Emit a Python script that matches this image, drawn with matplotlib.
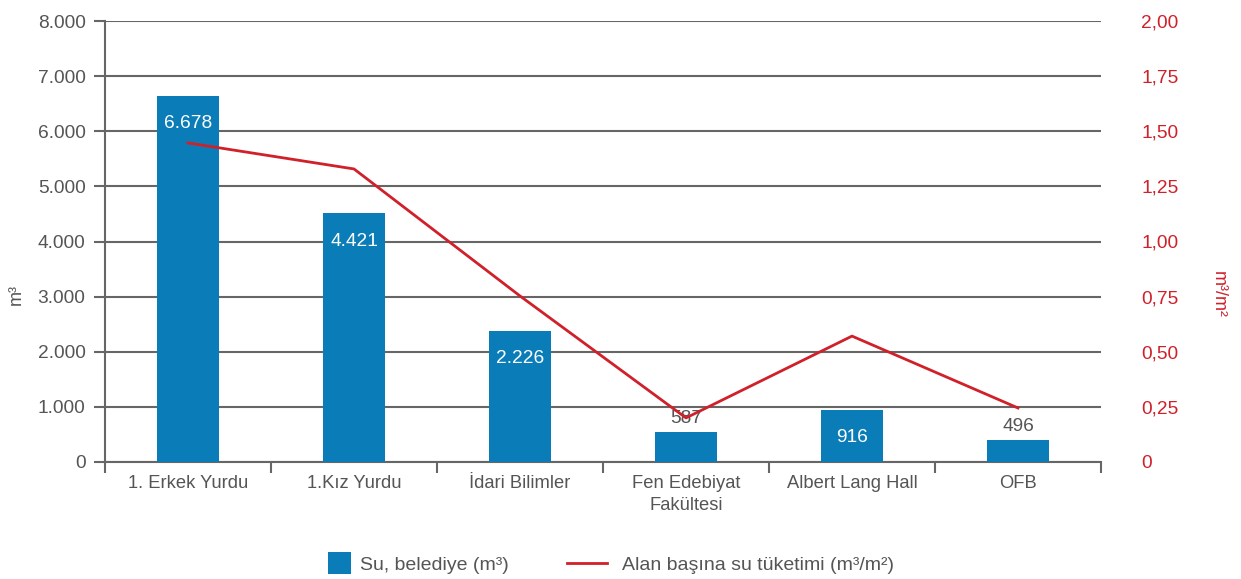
import numpy as np
import matplotlib.pyplot as plt
from matplotlib.patches import Patch, Rectangle
from matplotlib.lines import Line2D
from matplotlib.legend_handler import HandlerPatch

plt.rcParams['font.family'] = ['Liberation Sans', 'DejaVu Sans']

# data
categories = ["1. Erkek Yurdu", "1.Kız Yurdu", "İdari Bilimler",
              "Fen Edebiyat\nFakültesi", "Albert Lang Hall", "OFB"]
water = [6636, 4510, 2380, 545, 945, 400]          # bar heights as drawn
water_labels = ["6.678", "4.421", "2.226", "587", "916", "496"]
per_area = [1.447, 1.329, 0.753, 0.20, 0.571, 0.245]
left_ticks = [0, 1000, 2000, 3000, 4000, 5000, 6000, 7000, 8000]
left_ticklabels = ["0", "1.000", "2.000", "3.000", "4.000", "5.000", "6.000", "7.000", "8.000"]
right_ticks = [0, 0.25, 0.5, 0.75, 1.0, 1.25, 1.5, 1.75, 2.0]
right_ticklabels = ["0", "0,25", "0,50", "0,75", "1,00", "1,25", "1,50", "1,75", "2,00"]

blue = "#0a7db8"
red = "#d0202a"
grey = "#555555"
gridc = "#666666"


class SquareHandler(HandlerPatch):
    # square legend patch, pushed to the right end of the handle box
    def create_artists(self, legend, orig_handle, xdescent, ydescent,
                       width, height, fontsize, trans):
        s = 16.5
        r = Rectangle((-xdescent + width - s + 4.5, -ydescent + height / 2 - s / 2), s, s,
                      facecolor=orig_handle.get_facecolor(), edgecolor="none",
                      transform=trans)
        return [r]


fig = plt.figure(figsize=(12.41, 5.79), dpi=100)
ax = fig.add_axes([105/1241, 1 - 462/579, (1101-105)/1241, (462-21)/579])
ax2 = ax.twinx()

x = np.arange(len(categories))
ax.bar(x, water, width=0.37, color=blue, zorder=3)
ax.set_xlim(-0.5, len(categories) - 0.5)
ax.set_ylim(0, 8000)

for i, (v, lab) in enumerate(zip(water, water_labels)):
    if v > 800:
        ax.annotate(lab, (i, v), xytext=(0, -20), textcoords="offset points",
                    ha="center", va="center", color="white", fontsize=13.8, zorder=5)
    else:
        ax.annotate(lab, (i, v), xytext=(0, 10), textcoords="offset points",
                    ha="center", va="center", color=grey, fontsize=13.8, zorder=5)

# gridlines
ax.set_yticks(left_ticks)
ax.set_yticklabels(left_ticklabels)
ax.yaxis.grid(True, color=gridc, linewidth=1.5, zorder=0)
ax.tick_params(axis="y", length=8, width=1.5, color=gridc, labelcolor=grey,
               labelsize=13.8, pad=6)

# x ticks between categories
ax.set_xticks(x)
ax.set_xticklabels(categories, fontsize=13.2, color=grey, linespacing=1.4)
ax.tick_params(axis="x", length=0, pad=9)
ax.set_xticks(np.arange(len(categories) + 1) - 0.5, minor=True)
ax.tick_params(axis="x", which="minor", length=8, width=1.5, color=gridc)

for s in ["top", "right"]:
    ax.spines[s].set_visible(False)
for s in ["left", "bottom"]:
    ax.spines[s].set_color(gridc)
    ax.spines[s].set_linewidth(1.5)
ax.set_ylabel("m³", color=grey, fontsize=13)
ax.yaxis.set_label_coords(-0.081, 0.38)

ax2.plot(x, per_area, color=red, linewidth=2, zorder=4)
ax2.set_ylim(0, 2)
ax2.set_yticks(right_ticks)
ax2.set_yticklabels(right_ticklabels)
ax2.tick_params(axis="y", length=0, labelcolor=red, labelsize=13.8, pad=29)
for s in ax2.spines.values():
    s.set_visible(False)
ax2.set_ylabel("m³/m²", color=red, fontsize=13, rotation=270, va="center")
ax2.yaxis.set_label_coords(1.1175, 0.38)

handles = [Patch(facecolor=blue, edgecolor="none"),
           Line2D([0], [0], color=red, linewidth=2)]
fig.legend(handles, ["Su, belediye (m³)", "Alan başına su tüketimi (m³/m²)"],
           handler_map={Patch: SquareHandler()},
           loc="center left", bbox_to_anchor=(305/1241, 1 - 565/579), ncol=2,
           frameon=False, borderpad=0, borderaxespad=0,
           fontsize=14, labelcolor=grey, handlelength=2.06, handleheight=0.7,
           columnspacing=3.0, handletextpad=0.77)

fig.savefig("out.png", dpi=100)
